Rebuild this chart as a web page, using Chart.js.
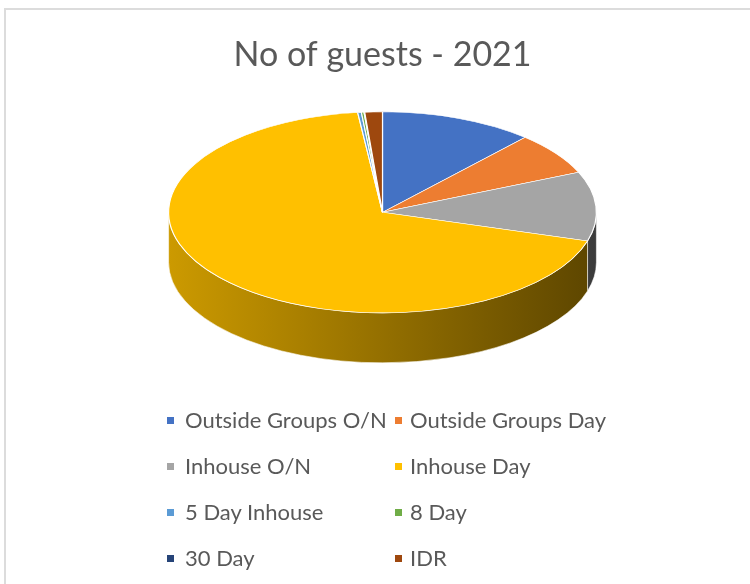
<!DOCTYPE html>
<html>
<head>
<meta charset="utf-8">
<script src="https://cdn.jsdelivr.net/npm/chart.js@4.4.0/dist/chart.umd.min.js"></script>
<style>
  html, body { margin: 0; padding: 0; background: #fff; }
  #wrap { position: relative; width: 750px; height: 584px; overflow: hidden; font-family: Lato, sans-serif; }
  #frame { position: absolute; left: 4px; top: 8px; width: 800px; height: 700px;
           border-left: 2px solid #dcdcdc; border-top: 2px solid #dcdcdc; }
  #chart { position: absolute; left: 0; top: 0; }
  .item { position: absolute; font-size: 22px; color: #595959; line-height: 28px; white-space: nowrap; }
  .item i { position: absolute; width: 7px; height: 7px; top: 11px; }
</style>
</head>
<body>
<div id="wrap">
  <div id="frame"></div>
  <canvas id="chart" width="750" height="584"></canvas>
  <div id="legend"></div>
</div>
<script>
const categories = [
  "Outside Groups O/N",
  "Outside Groups Day",
  "Inhouse O/N",
  "Inhouse Day",
  "5 Day Inhouse",
  "8 Day",
  "30 Day",
  "IDR",
];
const guests = [464, 274, 445, 2740, 11, 8, 2, 53];
const colors = ["#4472C4", "#ED7D31", "#A5A5A5", "#FFC000", "#5B9BD5", "#70AD47", "#264478", "#9E480E"];

function shade(hex, f) {
  const n = parseInt(hex.slice(1), 16);
  const r = Math.round(((n >> 16) & 255) * f);
  const g = Math.round(((n >> 8) & 255) * f);
  const b = Math.round((n & 255) * f);
  return `rgb(${r},${g},${b})`;
}

// fake 3D: flatten the pie and draw an extruded side under the front half
const pie3d = {
  id: "pie3d",
  beforeDatasetsDraw(chart, args, opts) {
    const ctx = chart.ctx;
    const arcs = chart.getDatasetMeta(0).data;
    const cx = arcs[0].x, cy = arcs[0].y, r = arcs[0].outerRadius;
    const k = opts.tilt, depth = opts.depth;
    const ey = chart.chartArea.top + r * k;

    arcs.forEach((arc, i) => {
      const s = Math.max(arc.startAngle, 0);
      const e = Math.min(arc.endAngle, Math.PI);
      if (e <= s) return;
      const grad = ctx.createLinearGradient(cx - r, 0, cx + r, 0);
      grad.addColorStop(0, shade(colors[i], 0.8));
      grad.addColorStop(1, shade(colors[i], 0.36));
      ctx.beginPath();
      ctx.ellipse(cx, ey, r, r * k, 0, s, e);
      ctx.ellipse(cx, ey + depth, r, r * k, 0, e, s, true);
      ctx.closePath();
      ctx.fillStyle = grad;
      ctx.fill();
      ctx.strokeStyle = "rgba(255,255,255,0.7)";
      ctx.lineWidth = 0.8;
      ctx.stroke();
    });

    ctx.save();
    ctx.translate(cx, ey);
    ctx.scale(1, k);
    ctx.translate(-cx, -cy);
  },
  afterDatasetsDraw(chart) {
    chart.ctx.restore();
  },
};

new Chart(document.getElementById("chart"), {
  type: "pie",
  data: {
    labels: categories,
    datasets: [{
      data: guests,
      backgroundColor: colors,
      borderColor: "#ffffff",
      borderWidth: 1.2,
      hoverOffset: 0,
      clip: false,
    }],
  },
  options: {
    responsive: false,
    animation: false,
    layout: { padding: { left: 168, right: 153, top: 0, bottom: 0 } },
    plugins: {
      legend: { display: false },
      tooltip: { enabled: false },
      title: {
        display: true,
        text: "No of guests - 2021",
        color: "#595959",
        font: { family: "Lato", size: 34, weight: "normal" },
        padding: { top: 35, bottom: 36 },
      },
      pie3d: { tilt: 0.47, depth: 50 },
    },
  },
  plugins: [pie3d],
});

// two-column legend like Excel's
const legend = document.getElementById("legend");
categories.forEach((name, i) => {
  const col = i % 2, row = Math.floor(i / 2);
  const el = document.createElement("div");
  el.className = "item";
  el.style.left = (col ? 395 : 167) + "px";
  el.style.top = (406 + row * 46) + "px";
  el.style.paddingLeft = (col ? 15 : 18) + "px";
  el.innerHTML = `<i style="left:0;background:${colors[i]}"></i>`;
  el.appendChild(document.createTextNode(name));
  legend.appendChild(el);
});
</script>
</body>
</html>
